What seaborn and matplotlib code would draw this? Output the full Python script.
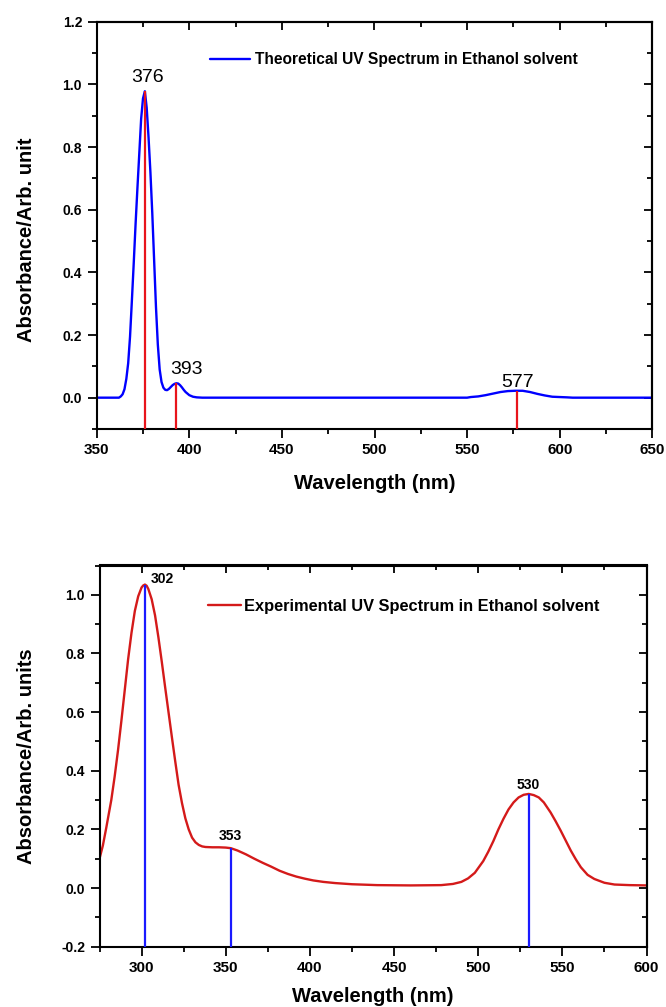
import matplotlib
matplotlib.use("Agg")
import matplotlib.pyplot as plt
import seaborn as sns
from matplotlib.ticker import MultipleLocator, FormatStrFormatter

# ---------------- data ----------------
# Theoretical (TD-DFT) UV spectrum in ethanol
theo_wl = [350, 360, 362, 363, 364, 365, 366, 367, 368, 369, 370, 371, 372, 373,
           374, 375, 376, 377, 378, 379, 380, 381, 382, 383, 384, 385, 386, 387,
           388, 389, 390, 391, 392, 393, 394, 395, 396, 397, 398, 400, 402, 404,
           407, 450, 500, 550, 552, 556, 560, 564, 568, 572, 576, 580, 584, 588,
           592, 596, 600, 604, 607, 650]
theo_abs = [0.0, 0.0, 0.0, 0.004, 0.011, 0.027, 0.060, 0.110, 0.195, 0.310, 0.430,
            0.555, 0.670, 0.780, 0.890, 0.955, 0.978, 0.925, 0.830, 0.720, 0.590,
            0.440, 0.290, 0.170, 0.090, 0.050, 0.032, 0.025, 0.024, 0.028, 0.034,
            0.040, 0.044, 0.046, 0.045, 0.040, 0.033, 0.025, 0.018, 0.008, 0.003,
            0.001, 0.0, 0.0, 0.0, 0.0, 0.002, 0.004, 0.008, 0.013, 0.018, 0.021,
            0.022, 0.022, 0.018, 0.012, 0.007, 0.003, 0.002, 0.001, 0.0, 0.0]
theo_peaks = [376, 393, 577]
theo_peak_abs = [0.978, 0.046, 0.022]

# Experimental UV spectrum in ethanol
exp_wl = [275, 277, 279, 282, 284, 286, 288, 290, 292, 294, 296, 298, 300, 301,
          302, 303, 304, 306, 308, 310, 312, 314, 316, 318, 320, 322, 324, 326,
          328, 330, 332, 334, 336, 338, 342, 346, 350, 353, 357, 362, 367, 372,
          377, 382, 387, 392, 397, 402, 408, 415, 425, 440, 460, 478, 485, 490,
          494, 498, 503, 506, 509, 512, 515, 518, 521, 524, 527, 530, 533, 536,
          539, 543, 546, 549, 552, 555, 558, 561, 565, 569, 575, 581, 590, 600]
exp_abs = [0.100, 0.145, 0.205, 0.300, 0.380, 0.470, 0.570, 0.675, 0.780, 0.870,
           0.945, 0.995, 1.025, 1.032, 1.035, 1.031, 1.020, 0.985, 0.930, 0.855,
           0.772, 0.685, 0.600, 0.515, 0.432, 0.352, 0.290, 0.238, 0.200, 0.172,
           0.156, 0.147, 0.142, 0.140, 0.139, 0.139, 0.138, 0.136, 0.128, 0.115,
           0.100, 0.086, 0.073, 0.059, 0.048, 0.039, 0.032, 0.026, 0.021, 0.017,
           0.013, 0.010, 0.009, 0.010, 0.014, 0.021, 0.033, 0.052, 0.092, 0.124,
           0.160, 0.200, 0.236, 0.268, 0.292, 0.309, 0.318, 0.321, 0.317, 0.309,
           0.292, 0.258, 0.228, 0.196, 0.162, 0.128, 0.098, 0.071, 0.045, 0.031,
           0.018, 0.012, 0.010, 0.009]
exp_peaks = [302, 353, 530]
exp_peak_abs = [1.035, 0.136, 0.321]

# ---------------- style ----------------
sns.set_style("ticks")
plt.rcParams["font.family"] = ["Liberation Sans", "DejaVu Sans"]
plt.rcParams["font.weight"] = "bold"
plt.rcParams["axes.unicode_minus"] = False
for key in ("text.color", "axes.labelcolor", "xtick.color", "ytick.color",
            "axes.edgecolor"):
    plt.rcParams[key] = "black"

W, H = 666, 1007
fig = plt.figure(figsize=(W / 100, H / 100), dpi=100)


def axes_px(left, top, right, bottom):
    return fig.add_axes([left / W, 1 - bottom / H, (right - left) / W, (bottom - top) / H])


def frame(ax, xlim, ylim, xmaj, xmin, ymaj, ymin):
    ax.set_xlim(*xlim)
    ax.set_ylim(*ylim)
    ax.xaxis.set_major_locator(MultipleLocator(xmaj))
    ax.xaxis.set_minor_locator(MultipleLocator(xmin))
    ax.yaxis.set_major_locator(MultipleLocator(ymaj))
    ax.yaxis.set_minor_locator(MultipleLocator(ymin))
    ax.yaxis.set_major_formatter(FormatStrFormatter("%.1f"))
    ax.tick_params(which="both", direction="out", width=1.3, color="black",
                   labelcolor="black", top=False, right=False)
    ax.tick_params(which="major", length=6.5)
    ax.tick_params(which="minor", length=3.5)
    ax.tick_params(axis="x", labelsize=11, pad=3.5)
    ax.tick_params(axis="y", labelsize=10, pad=4)
    for sp in ax.spines.values():
        sp.set_visible(True)
        sp.set_linewidth(1.5)
        sp.set_color("black")
    # mirrored ticks pointing inward on top and right
    sx = ax.secondary_xaxis("top")
    sx.xaxis.set_major_locator(MultipleLocator(xmaj))
    sx.xaxis.set_minor_locator(MultipleLocator(xmin))
    sx.tick_params(which="both", direction="in", width=1.3, color="black", labeltop=False)
    sx.tick_params(which="major", length=6)
    sx.tick_params(which="minor", length=3.5)
    sx.spines["top"].set_linewidth(1.5)
    sy = ax.secondary_yaxis("right")
    sy.yaxis.set_major_locator(MultipleLocator(ymaj))
    sy.yaxis.set_minor_locator(MultipleLocator(ymin))
    sy.tick_params(which="both", direction="in", width=1.3, color="black", labelright=False)
    sy.tick_params(which="major", length=6)
    sy.tick_params(which="minor", length=3.5)
    sy.spines["right"].set_linewidth(1.5)


# ---------------- theoretical panel ----------------
ax1 = axes_px(96.7, 21.7, 652.3, 429)
frame(ax1, (350, 650), (-0.1, 1.2), 50, 25, 0.2, 0.1)
sns.lineplot(x=theo_wl, y=theo_abs, ax=ax1, color="#0000FF", linewidth=1.7,
             estimator=None, sort=False,
             label="Theoretical UV Spectrum in Ethanol solvent")
ax1.vlines(theo_peaks, ymin=ax1.get_ylim()[0], ymax=theo_peak_abs,
           colors="#E8141B", linewidth=1.6, zorder=3)
for wl, a, off in zip(theo_peaks, theo_peak_abs, [(3, 9), (10, 9), (0, 4)]):
    ax1.annotate(f"{wl}", xy=(wl, a), xytext=off, textcoords="offset pixels",
                 ha="center", va="baseline", fontsize=14, fontweight="normal")
ax1.legend(loc="center left", bbox_to_anchor=(0.204, 0.906), frameon=False,
           prop={"size": 11.2, "weight": "bold"}, handlelength=2.6,
           handletextpad=0.28, borderpad=0, borderaxespad=0)
ax1.set_xlabel("Wavelength (nm)", fontsize=14.5, fontweight="bold", va="baseline")
ax1.set_ylabel("Absorbance/Arb. unit", fontsize=14.5, fontweight="bold")
ax1.xaxis.set_label_coords(0.5, -0.147)
ax1.yaxis.set_label_coords(-0.109, 0.464)

# ---------------- experimental panel ----------------
ax2 = axes_px(99.5, 565.5, 646.5, 946.7)
frame(ax2, (275, 600), (-0.2, 1.1), 50, 25, 0.2, 0.1)
sns.lineplot(x=exp_wl, y=exp_abs, ax=ax2, color="#D41A1A", linewidth=1.7,
             estimator=None, sort=False,
             label="Experimental UV Spectrum in Ethanol solvent")
ax2.vlines(exp_peaks, ymin=ax2.get_ylim()[0], ymax=exp_peak_abs,
           colors="#1A1AFF", linewidth=1.6, zorder=3)
for wl, a, off in zip(exp_peaks, exp_peak_abs, [(17, 2), (0, 8), (0, 5)]):
    ax2.annotate(f"{wl}", xy=(wl, a), xytext=off, textcoords="offset pixels",
                 ha="center", va="baseline", fontsize=10, fontweight="bold")
ax2.legend(loc="center left", bbox_to_anchor=(0.198, 0.892), frameon=False,
           prop={"size": 11.8, "weight": "bold"}, handlelength=2.0,
           handletextpad=0.2, borderpad=0, borderaxespad=0)
ax2.set_xlabel("Wavelength (nm)", fontsize=14.5, fontweight="bold", va="baseline")
ax2.set_ylabel("Absorbance/Arb. units", fontsize=14.5, fontweight="bold")
ax2.xaxis.set_label_coords(0.5, -0.144)
ax2.yaxis.set_label_coords(-0.116, 0.5)

fig.savefig("out.png", dpi=100)
